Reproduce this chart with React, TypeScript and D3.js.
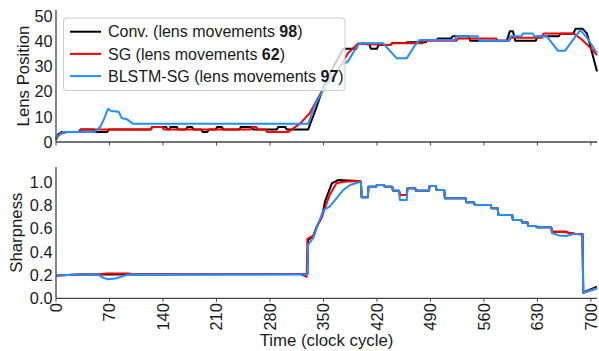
import React from 'react';
import * as d3 from 'd3';

type Pt = [number, number];

const timeTicks = [0, 70, 140, 210, 280, 350, 420, 490, 560, 630, 700];
const lensTicks = [0, 10, 20, 30, 40, 50];
const sharpTicks = [0, 0.2, 0.4, 0.6, 0.8, 1.0];
const seriesNames = ['Conv.', 'SG', 'BLSTM-SG'];
const lensMovements = [98, 62, 97];
const seriesColors = ['#000000', '#ff0000', '#1e90ff'];

const convLens: Pt[] = [
  [0, 1], [3, 3], [8, 4], [30, 4], [32, 5], [50, 5], [52, 4], [67, 4], [69, 5],
  [124, 5], [126, 6], [144, 6], [146, 5], [148, 5], [150, 6], [158, 6], [160, 5],
  [170, 5], [172, 6], [178, 6], [180, 5], [190, 5], [192, 4], [198, 4], [200, 5],
  [209, 5], [211, 6], [217, 6], [219, 5], [240, 5], [242, 6], [256, 6], [258, 5],
  [289, 5], [291, 6], [300, 6], [302, 5], [330, 5], [340, 13], [350, 22], [365, 31],
  [376, 37], [393, 37], [395, 39], [410, 39], [412, 37], [420, 37], [422, 38.5],
  [438, 38.5], [440, 39.3], [458, 39.3], [460, 39.6], [484, 39.6], [486, 40.5],
  [498, 40.5], [500, 41.1], [517, 41.1], [519, 42], [540, 42], [542, 40.2],
  [590, 40.2], [594, 44], [598, 44], [601, 40.2], [628, 40.2], [630, 42], [658, 42],
  [660, 43], [677, 43], [680, 45], [689, 45], [695, 43], [708, 28],
];

const sgLens: Pt[] = [
  [0, 1], [3, 2.5], [8, 3.5], [15, 4], [30, 4], [33, 5], [124, 5], [126, 6],
  [139, 6], [141, 5], [255, 5], [257, 6], [262, 6], [264, 5], [274, 5], [276, 4],
  [304, 4], [306, 4.4], [320, 7.5], [332, 11.4], [345, 18.6], [358, 24.6],
  [372, 30], [382, 35.2], [395, 39], [437, 38.5], [440, 39.2], [480, 39.2],
  [482, 40.2], [524, 40.2], [526, 41.1], [576, 41.1], [578, 40.2], [593, 40.2],
  [595, 41.4], [636, 41.4], [638, 43.1], [677, 43.1], [687, 41], [700, 37.2],
  [708, 34.5],
];

const blstmLens: Pt[] = [
  [0, 1.5], [5, 3], [10, 4], [50, 4], [58, 6], [64, 10], [68, 13.2], [72, 12.3],
  [82, 12], [86, 9.5], [93, 9], [101, 7.2], [330, 7.2], [338, 14], [350, 21],
  [360, 26], [375, 30.6], [382, 32], [395, 38.5], [400, 39.3], [428, 39.2],
  [446, 33.2], [459, 33.2], [470, 38.5], [476, 40.5], [522, 40.5], [524, 42],
  [552, 42], [554, 40.2], [592, 40.2], [595, 42], [609, 42], [611, 43.1],
  [624, 43.1], [626, 42], [642, 42], [657, 36.2], [666, 36.2], [686, 44.4],
  [695, 41.4], [708, 35.2],
];

const convSharp: Pt[] = [
  [0, 0.196], [30, 0.205], [329, 0.208], [330, 0.5], [337, 0.54], [341, 0.61],
  [348, 0.7], [352, 0.83], [356, 0.9], [361, 0.987], [369, 1.015], [396, 1.007],
  [399, 1.0], [400, 0.867], [408, 0.867], [409, 0.958], [419, 0.958], [420, 0.973],
  [429, 0.973], [430, 0.958], [440, 0.958], [441, 0.924], [449, 0.924], [450, 0.887],
  [459, 0.887], [460, 0.944], [470, 0.944], [471, 0.924], [488, 0.924], [489, 0.964],
  [497, 0.964], [498, 0.93], [508, 0.93], [509, 0.858], [536, 0.858], [537, 0.824],
  [547, 0.824], [548, 0.8], [569, 0.8], [570, 0.772], [578, 0.772], [579, 0.715],
  [597, 0.715], [598, 0.672], [609, 0.672], [610, 0.65], [617, 0.65], [618, 0.62],
  [628, 0.62], [629, 0.61], [648, 0.61], [649, 0.572], [668, 0.572], [669, 0.565],
  [679, 0.555], [689, 0.55], [690, 0.05], [708, 0.1],
];

const sgSharp: Pt[] = [
  [0, 0.196], [30, 0.205], [60, 0.206], [65, 0.212], [95, 0.212], [100, 0.207],
  [320, 0.208], [328, 0.185], [329, 0.51], [337, 0.54], [341, 0.61], [348, 0.7],
  [358, 0.887], [367, 0.987], [376, 1.0], [396, 1.007], [399, 1.0], [400, 0.867],
  [408, 0.867], [409, 0.958], [419, 0.958], [420, 0.973], [429, 0.973], [430, 0.958],
  [440, 0.958], [441, 0.924], [449, 0.924], [450, 0.887], [459, 0.887], [460, 0.944],
  [470, 0.944], [471, 0.924], [488, 0.924], [489, 0.964], [497, 0.964], [498, 0.93],
  [508, 0.93], [509, 0.858], [536, 0.858], [537, 0.824], [547, 0.824], [548, 0.8],
  [569, 0.8], [570, 0.772], [578, 0.772], [579, 0.715], [597, 0.715], [598, 0.672],
  [609, 0.672], [610, 0.65], [617, 0.65], [618, 0.62], [628, 0.62], [629, 0.61],
  [648, 0.61], [649, 0.572], [668, 0.572], [669, 0.565], [679, 0.555], [689, 0.55],
  [690, 0.048], [708, 0.086],
];

const blstmSharp: Pt[] = [
  [0, 0.196], [30, 0.205], [55, 0.205], [62, 0.175], [68, 0.163], [78, 0.17],
  [90, 0.195], [97, 0.205], [329, 0.205], [330, 0.46], [337, 0.52], [341, 0.6],
  [350, 0.758], [358, 0.786], [367, 0.858], [376, 0.93], [385, 0.972], [398, 1.0],
  [399, 0.99], [400, 0.867], [408, 0.867], [409, 0.958], [419, 0.958], [420, 0.973],
  [429, 0.973], [430, 0.958], [440, 0.958], [441, 0.924], [449, 0.924], [450, 0.844],
  [459, 0.844], [460, 0.944], [470, 0.944], [471, 0.924], [488, 0.924], [489, 0.964],
  [497, 0.964], [498, 0.93], [508, 0.93], [509, 0.858], [536, 0.858], [537, 0.824],
  [547, 0.824], [548, 0.8], [569, 0.8], [570, 0.772], [578, 0.772], [579, 0.715],
  [597, 0.715], [598, 0.672], [609, 0.672], [610, 0.65], [617, 0.65], [618, 0.62],
  [628, 0.62], [629, 0.61], [648, 0.61], [649, 0.56], [658, 0.54], [668, 0.535],
  [679, 0.555], [689, 0.543], [690, 0.048], [708, 0.086],
];

const lensSeries = [convLens, sgLens, blstmLens];
const sharpSeries = [convSharp, sgSharp, blstmSharp];

const FONT = '"Liberation Sans", Arial, sans-serif';
const TEXT = '#1a1a1a';
const SPINE = '#444';

export default function App() {
  const W = 599;
  const H = 351;
  const x = d3.scaleLinear().domain([0, 708]).range([56, 597]);
  const yTop = d3.scaleLinear().domain([0, 52.4]).range([142, 10]);
  const yBot = d3.scaleLinear().domain([0, 1.127]).range([298.3, 167]);

  const lineTop = d3.line<Pt>().x((d) => x(d[0])).y((d) => yTop(d[1]));
  const lineBot = d3.line<Pt>().x((d) => x(d[0])).y((d) => yBot(d[1]));

  const [x0, x1] = x.range();

  return (
    <svg
      width={W}
      height={H}
      viewBox={`0 0 ${W} ${H}`}
      style={{ position: 'absolute', left: 0, top: 0, background: '#fff' }}
      fontFamily={FONT}
    >
      <rect x={0} y={0} width={W} height={H} fill="#fff" />

      {lensSeries.map((s, i) => (
        <path
          key={`lt${i}`}
          d={lineTop(s) || ''}
          fill="none"
          stroke={seriesColors[i]}
          strokeWidth={2}
          strokeLinejoin="round"
        />
      ))}

      <line x1={x0} x2={x0} y1={yTop.range()[1]} y2={yTop.range()[0]} stroke={SPINE} strokeWidth={1.3} />
      <line x1={x0} x2={x1} y1={yTop(0)} y2={yTop(0)} stroke={SPINE} strokeWidth={1.3} />
      {timeTicks.map((t) => (
        <line key={`tt${t}`} x1={x(t)} x2={x(t)} y1={yTop(0)} y2={yTop(0) + 3.5} stroke={SPINE} strokeWidth={1} />
      ))}
      {lensTicks.map((v) => (
        <text key={`ly${v}`} x={52.5} y={yTop(v)} dy="0.36em" textAnchor="end" fontSize={16.3} fill={TEXT}>
          {v}
        </text>
      ))}
      <text
        transform={`translate(29, ${(yTop.range()[0] + yTop.range()[1]) / 2}) rotate(-90)`}
        textAnchor="middle"
        fontSize={16.8}
        fill={TEXT}
      >
        Lens Position
      </text>

      <rect x={63.5} y={18} width={281.5} height={72.5} rx={3} fill="#fff" fillOpacity={0.8} stroke="#cccccc" strokeWidth={1} />
      {seriesNames.map((name, i) => {
        const cy = 31.7 + i * 22.2;
        return (
          <g key={`lg${i}`}>
            <line x1={70} x2={101} y1={cy} y2={cy} stroke={seriesColors[i]} strokeWidth={2} />
            <text x={108} y={cy} dy="0.36em" fontSize={16} fill={TEXT}>
              {`${name} (lens movements `}
              <tspan fontWeight="bold">{lensMovements[i]}</tspan>
              {')'}
            </text>
          </g>
        );
      })}

      {sharpSeries.map((s, i) => (
        <path
          key={`lb${i}`}
          d={lineBot(s) || ''}
          fill="none"
          stroke={seriesColors[i]}
          strokeWidth={2}
          strokeLinejoin="round"
        />
      ))}

      <line x1={x0} x2={x0} y1={yBot.range()[1]} y2={yBot.range()[0]} stroke={SPINE} strokeWidth={1.3} />
      <line x1={x0} x2={x1} y1={yBot(0)} y2={yBot(0)} stroke={SPINE} strokeWidth={1.3} />
      {timeTicks.map((t) => (
        <g key={`bt${t}`}>
          <line x1={x(t)} x2={x(t)} y1={yBot(0)} y2={yBot(0) + 3.5} stroke={SPINE} strokeWidth={1} />
          <text
            transform={`translate(${x(t)}, ${yBot(0) + 5}) rotate(-90)`}
            textAnchor="end"
            dy="0.36em"
            fontSize={16.3}
            fill={TEXT}
          >
            {t}
          </text>
        </g>
      ))}
      {sharpTicks.map((v) => (
        <text key={`sy${v}`} x={52.5} y={yBot(v)} dy="0.36em" textAnchor="end" fontSize={16.3} fill={TEXT}>
          {d3.format('.1f')(v)}
        </text>
      ))}
      <text
        transform={`translate(22, ${(yBot.range()[0] + yBot.range()[1]) / 2}) rotate(-90)`}
        textAnchor="middle"
        fontSize={16.8}
        fill={TEXT}
      >
        Sharpness
      </text>
      <text x={(x0 + x1) / 2} y={345.5} textAnchor="middle" fontSize={16.8} fill={TEXT}>
        Time (clock cycle)
      </text>
    </svg>
  );
}
